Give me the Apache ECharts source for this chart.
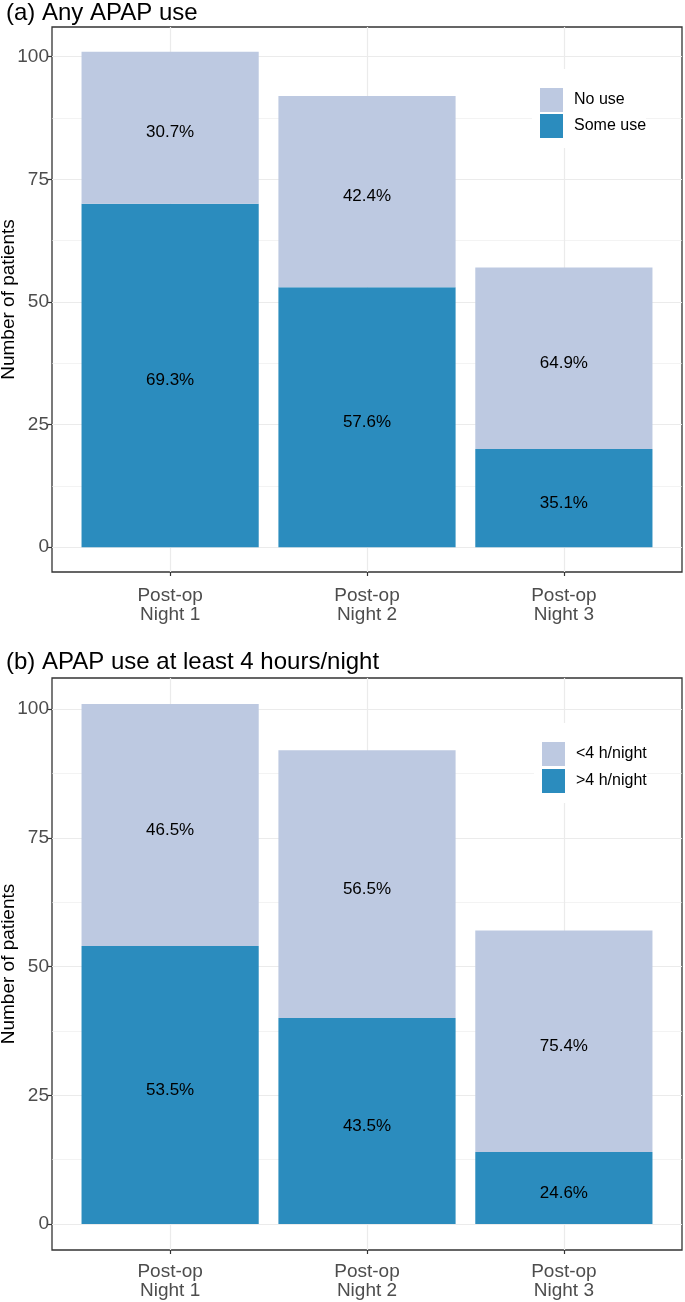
<!DOCTYPE html>
<html><head><meta charset="utf-8">
<script src="https://cdn.jsdelivr.net/npm/echarts@6/dist/echarts.min.js"></script>
<style>html,body{margin:0;padding:0;background:#fff}#c{width:685px;height:1302px}</style>
</head><body><div id="c"></div>
<script>
// ---- data ----
const categories = ['Post-op\nNight 1', 'Post-op\nNight 2', 'Post-op\nNight 3'];
const panelTitles = ['(a) Any APAP use', '(b) APAP use at least 4 hours/night'];
const anyUseSome = [70, 53, 20];
const anyUseNo = [31, 39, 37];
const use4hAbove = [54, 40, 14];
const use4hBelow = [47, 52, 43];
const seriesNamesA = ['Some use', 'No use'];
const seriesNamesB = ['>4 h/night', '<4 h/night'];
const yTicks = [0, 25, 50, 75, 100];
const yMinorTicks = [12.5, 37.5, 62.5, 87.5];
const yTitle = 'Number of patients';

const DARK = '#2b8cbe', LIGHT = '#bdc9e1';
const FONT = '"Liberation Sans", Arial, Helvetica, sans-serif';
const xPos = categories.map((_, i) => i + 1);
const X_EXPAND = 0.6; // ggplot discrete expansion (units of one band)

const panels = [
  { bottomVals: anyUseSome, topVals: anyUseNo, names: seriesNamesA,
    rect: { left: 52, top: 27, width: 630, height: 545 }, labelMargin: 14,
    legend: { left: 532, top: 69, itemGap: 2 }, titleTop: 1 },
  { bottomVals: use4hAbove, topVals: use4hBelow, names: seriesNamesB,
    rect: { left: 52, top: 678, width: 630, height: 572 }, labelMargin: 12,
    legend: { left: 534, top: 723, itemGap: 3 }, titleTop: 650 }
];

const grids = [], xAxes = [], yAxes = [], series = [], legends = [], graphics = [];
panels.forEach((p, pi) => {
  const totals = p.bottomVals.map((v, i) => v + p.topVals[i]);
  const maxT = Math.max(...totals);
  const yMin = -maxT * 0.05, yMax = maxT * 1.05;
  const n = categories.length;
  const span = n - 1 + 2 * X_EXPAND;
  const unit = p.rect.width / span;
  // frame grid
  const gF = grids.length;
  grids.push(Object.assign({ show: true, borderColor: '#333', borderWidth: 1.3,
    backgroundColor: 'transparent', outerBoundsMode: 'none', containLabel: false }, p.rect));
  // bar grid (inner band area)
  const gB = grids.length;
  grids.push({ show: false, outerBoundsMode: 'none', containLabel: false,
    left: p.rect.left + unit * (X_EXPAND - 0.5), top: p.rect.top,
    width: unit * n, height: p.rect.height });

  xAxes.push({
    type: 'value', gridIndex: gF, min: 1 - X_EXPAND, max: n + X_EXPAND,
    axisLine: { show: false, onZero: false },
    axisTick: { show: false, customValues: xPos },
    axisLabel: { show: false, customValues: xPos },
    splitLine: { show: true, lineStyle: { color: '#ebebeb', width: 1.2 } }
  });
  const xB = xAxes.length;
  xAxes.push({
    type: 'category', gridIndex: gB, data: categories, boundaryGap: true,
    axisLine: { show: false, onZero: false },
    axisTick: { show: true, alignWithLabel: true, length: 4, lineStyle: { color: '#333', width: 1.2 } },
    axisLabel: { fontFamily: FONT, fontSize: 19, color: '#4d4d4d', lineHeight: 19, margin: p.labelMargin },
    splitLine: { show: false }
  });
  yAxes.push({
    type: 'value', gridIndex: gF, min: yMin, max: yMax,
    name: yTitle, nameLocation: 'middle', nameGap: 34, nameMoveOverlap: false,
    nameTextStyle: { fontFamily: FONT, fontSize: 19, color: '#000' },
    axisLine: { show: false, onZero: false },
    axisTick: { show: true, length: 4, lineStyle: { color: '#333', width: 1.2 }, customValues: yTicks },
    axisLabel: { customValues: yTicks, fontFamily: FONT, fontSize: 19, color: '#4d4d4d', margin: 3 },
    splitLine: { show: true, lineStyle: { color: '#ebebeb', width: 1.2 } }
  });
  yAxes.push({
    type: 'value', gridIndex: gF, position: 'left', min: yMin, max: yMax,
    axisLine: { show: false, onZero: false },
    axisTick: { show: false, customValues: yMinorTicks },
    axisLabel: { show: false, customValues: yMinorTicks },
    splitLine: { show: true, lineStyle: { color: '#ebebeb', width: 0.6 } }
  });
  const yB = yAxes.length;
  yAxes.push({
    type: 'value', gridIndex: gB, min: yMin, max: yMax, show: false,
    splitLine: { show: false }
  });
  const mkLabel = (vals) => ({
    show: true, position: 'inside', offset: [0, 5],
    fontFamily: FONT, fontSize: 17, color: '#000',
    formatter: prm => (vals[prm.dataIndex] / totals[prm.dataIndex] * 100).toFixed(1) + '%'
  });
  series.push({
    type: 'bar', name: p.names[0], xAxisIndex: xB, yAxisIndex: yB, stack: 's' + pi,
    barWidth: '90%', data: p.bottomVals,
    itemStyle: { color: DARK }, label: mkLabel(p.bottomVals), z: 3
  });
  series.push({
    type: 'bar', name: p.names[1], xAxisIndex: xB, yAxisIndex: yB, stack: 's' + pi,
    barWidth: '90%', data: p.topVals,
    itemStyle: { color: LIGHT }, label: mkLabel(p.topVals), z: 3
  });
  legends.push({
    data: [p.names[1], p.names[0]], orient: 'vertical',
    left: p.legend.left, top: p.legend.top, padding: [19, 0, 10, 8],
    itemWidth: 23, itemHeight: 24, itemGap: p.legend.itemGap, icon: 'rect',
    backgroundColor: '#fff', selectedMode: false,
    textStyle: { fontFamily: FONT, fontSize: 16, color: '#000', padding: [7, 0, 0, 6] }
  });
  graphics.push({
    type: 'text', left: 6, top: p.titleTop,
    style: { text: panelTitles[pi], font: '24px ' + FONT, fill: '#000' }
  });
});

const chart = echarts.init(document.getElementById('c'), null, { renderer: 'canvas' });
chart.setOption({
  animation: false,
  backgroundColor: '#fff',
  grid: grids, xAxis: xAxes, yAxis: yAxes, series: series,
  legend: legends, graphic: graphics
});
</script></body></html>
